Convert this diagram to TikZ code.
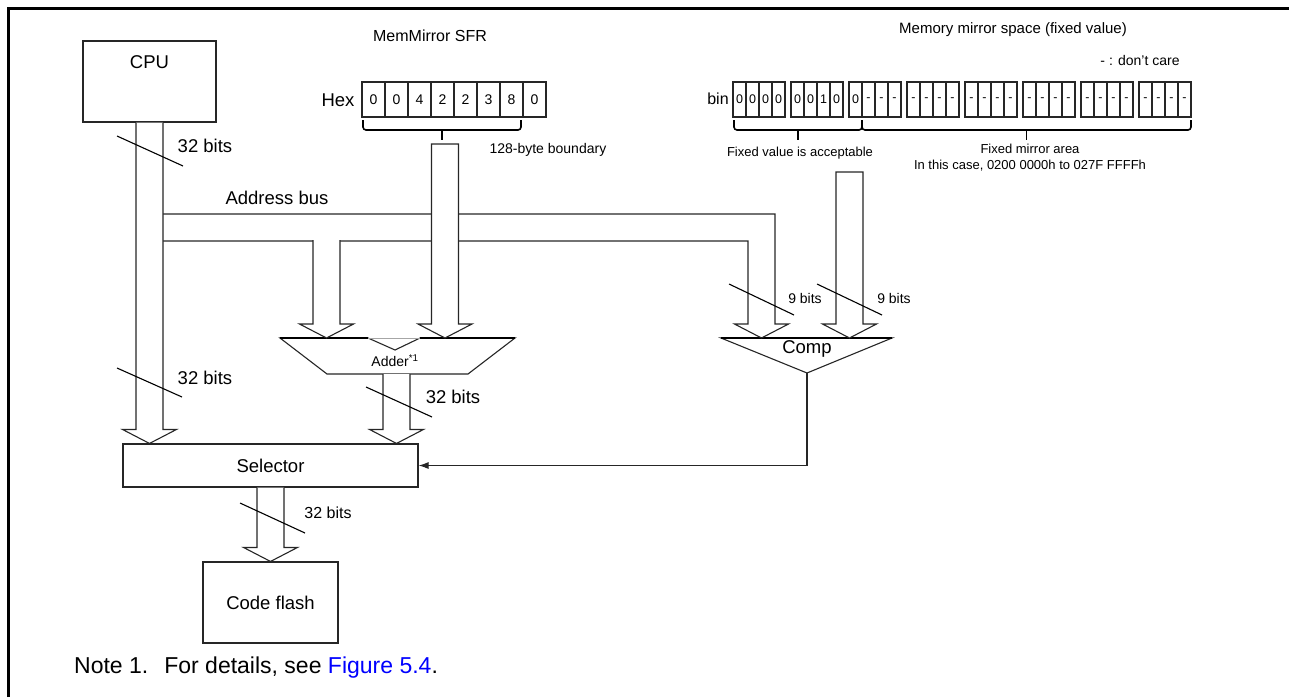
\documentclass[tikz,border=0pt]{standalone}
\usepackage{fontspec}
\setmainfont{Liberation Sans}
\usetikzlibrary{arrows.meta,calc}
\definecolor{linkblue}{RGB}{0,0,255}
\tikzset{
  ln/.style={draw=black!85,line width=1.1pt},
  blk/.style={ln,fill=white,inner sep=0pt},
  pipe/.style={ln,fill=white,line join=miter},
  cell/.style={ln,inner sep=0pt},
  brc/.style={draw=black,line width=1.6pt,rounded corners=3pt},
  slash/.style={draw=black,line width=1.1pt},
  fbig/.style={font=\fontsize{18.5}{22}\selectfont},
  fmid/.style={font=\fontsize{16}{19}\selectfont},
  fsml/.style={font=\fontsize{14}{16}\selectfont},
  ftiny/.style={font=\fontsize{13}{15.5}\selectfont},
}
% hollow bus arrow from #1 down to the tip #2
\newcommand{\busarrow}[2]{%
  \draw[pipe] let \p1=(#1), \p2=(#2) in
    (\x2-13.5pt,\y1) -- (\x2-13.5pt,\y2+14pt) -- (\x2-27pt,\y2+14pt) -- (\x2,\y2)
    -- (\x2+27pt,\y2+14pt) -- (\x2+13.5pt,\y2+14pt) -- (\x2+13.5pt,\y1);}
% same, closed at the top
\newcommand{\busarrowc}[2]{%
  \draw[pipe] let \p1=(#1), \p2=(#2) in
    (\x2-13.5pt,\y1) -- (\x2-13.5pt,\y2+14pt) -- (\x2-27pt,\y2+14pt) -- (\x2,\y2)
    -- (\x2+27pt,\y2+14pt) -- (\x2+13.5pt,\y2+14pt) -- (\x2+13.5pt,\y1) -- cycle;}
\begin{document}
\begin{tikzpicture}[x=1pt,y=-1pt]
\useasboundingbox (0,0) rectangle (1289,697);
\draw[line width=3pt] (8,697) -- (8,8) -- (1289,8);

% blocks
\node[blk,minimum width=133pt,minimum height=81pt] (cpu) at (149.5,81.5) {};
\node[fbig] (cputxt) at (149.5,62) {CPU};
\node[blk,fbig,minimum width=295pt,minimum height=43pt] (sel) at (270.5,465.5) {Selector};
\node[blk,fbig,minimum width=135pt,minimum height=81pt] (flash) at (270.5,602.5) {Code flash};

% adder
\coordinate (addL) at (326.5,338);
\coordinate (addR) at (445,338);
\coordinate (addO) at (396.5,374);
\draw[ln,fill=white] (280,338) -- (368,338) -- (395,350) -- (420,338) -- (515,338)
  -- (468,374) -- (327,374) -- cycle;
\draw[line width=2pt] (280,338) -- (368,338) (420,338) -- (515,338);
\draw[black!35,line width=0.6pt] (368,338) -- (420,338);
\node[fsml] (addtxt) at (395,361) {Adder\textsuperscript{*1}};

% comparator
\coordinate (compA) at (761.5,338);
\coordinate (compB) at (849.5,338);
\coordinate (compO) at (807,373);
\draw[ln,fill=white] (721,338) -- (892,338) -- (compO) -- cycle;
\draw[line width=2pt] (721,338) -- (892,338);
\node[fbig] (comptxt) at (807,349) {Comp};

% address bus
\draw[ln,line join=miter] (163,214) -- (775,214) -- (775,324) -- (788.5,324) -- (compA)
  -- (734.5,324) -- (748,324) -- (748,241) -- (163,241);
\node[fbig] (abus) at (277,198) {Address bus};

% bus arrows
\busarrow{cpu.south}{cpu.south |- sel.north}
\coordinate (busA) at (326.5,240);
\busarrow{busA}{addL}
\coordinate (mmTop) at (445,144);
\busarrowc{mmTop}{addR}
\coordinate (cmTop) at (849.5,172);
\busarrowc{cmTop}{compB}
\busarrow{addO}{addO |- sel.north}
\busarrow{sel.south}{flash.north}
\draw[ln,-{Latex[length=10pt,width=7pt]}] (compO) |- (sel.east);

% bit widths
\draw[slash] (117,136) -- (183,166);
\node[fbig] (w1) at (205,146) {32 bits};
\draw[slash] (117,368) -- (182,397);
\node[fbig] (w2) at (205,378) {32 bits};
\draw[slash] (366,387) -- (432,417);
\node[fbig] (w3) at (453,397) {32 bits};
\draw[slash] (240,503) -- (305,533);
\node[fmid] (w4) at (328,513) {32 bits};
\draw[slash] (729,284) -- (794,315);
\node[fsml] (w5) at (805,298) {9 bits};
\draw[slash] (817,284) -- (882,315);
\node[fsml] (w6) at (894,298) {9 bits};

% MemMirror SFR
\node[fmid] (mmtitle) at (430,36) {MemMirror SFR};
\node[fbig] (hexlbl) at (338,100) {Hex};
\foreach \d [count=\i from 0] in {0,0,4,2,2,3,8,0}
  \node[cell,fsml,minimum width=23pt,minimum height=35pt] (h\i) at ({373.5+23*\i},99.5) {\d};
\draw[brc] (363,120) -- (363,130) -- (521,130) -- (521,120);
\draw[brc] (442,130) -- (442,140);
\node[fsml,anchor=west] (bnd) at (486,150) {128-byte boundary};

% memory mirror space
\node[font=\fontsize{15}{18}\selectfont] (mstitle) at (1013,30) {Memory mirror space (fixed value)};
\node[fsml] (dc) at (1140,60) {- : don't care};
\node[fmid] (binlbl) at (718,99) {bin};
\foreach \g/\bits in {0/{0,0,0,0},1/{0,0,1,0},2/{0,-,-,-},3/{-,-,-,-},4/{-,-,-,-},5/{-,-,-,-},6/{-,-,-,-},7/{-,-,-,-}}
  \foreach \b [count=\c from 0] in \bits
    \node[cell,font=\fontsize{12.5}{15}\selectfont,minimum width=13pt,minimum height=35pt] (b\g-\c) at ({739.5+58*\g+13*\c},99.5) {\b};
\draw[brc] (734,120) -- (734,130) -- (862,130) -- (862,120);
\draw[brc] (798,130) -- (798,140);
\draw[brc] (862,120) -- (862,130) -- (1191,130) -- (1191,120);
\draw[brc] (1026.5,130) -- (1026.5,140);
\node[ftiny] (fva) at (800,153) {Fixed value is acceptable};
\node[ftiny] (fma) at (1030,149) {Fixed mirror area};
\node[ftiny] (itc) at (1030,166) {In this case, 0200 0000h to 027F FFFFh};

% note
\node[font=\fontsize{23}{27}\selectfont,anchor=west,inner sep=0pt] (note) at (74,668)
  {Note 1.\hspace{16pt}For details, see \textcolor{linkblue}{Figure 5.4}.};
\end{tikzpicture}
\end{document}
